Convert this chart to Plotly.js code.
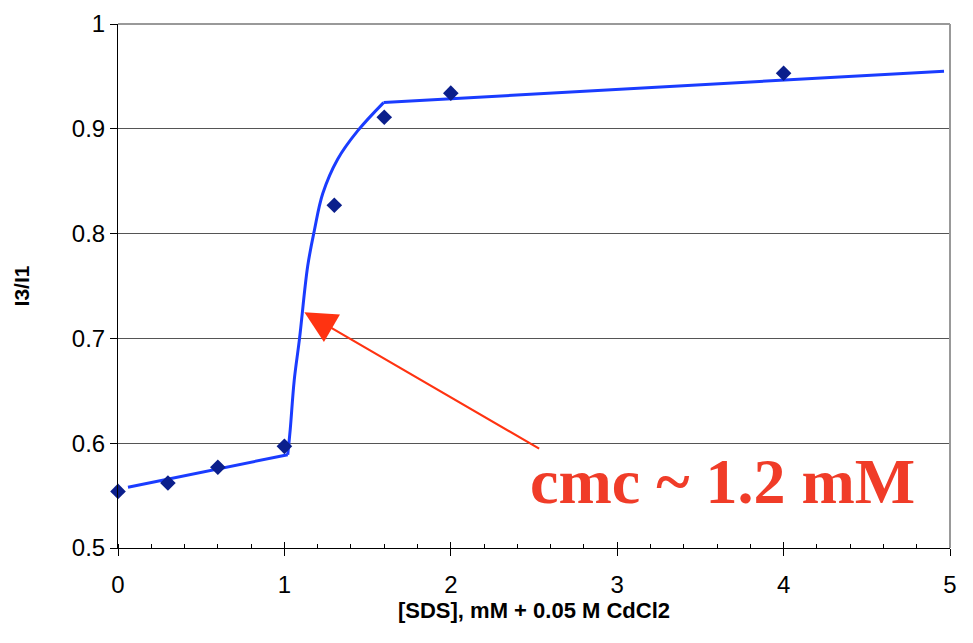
<!DOCTYPE html>
<html>
<head>
<meta charset="utf-8">
<script src="https://cdn.plot.ly/plotly-3.0.1.min.js"></script>
<style>html,body{margin:0;padding:0;background:#fff;}#chart{width:973px;height:643px;}</style>
</head>
<body>
<div id="chart"></div>
<script>
// Measured data points
const sdsConc = [0, 0.3, 0.6, 1.0, 1.3, 1.6, 2.0, 4.0];
const ratioI3I1 = [0.554, 0.562, 0.577, 0.597, 0.827, 0.911, 0.934, 0.953];

// Hand-drawn trend line, in three pieces
const preX = [0.06, 1.02];
const preY = [0.558, 0.589];
const riseX = [1.02, 1.035, 1.059, 1.091, 1.14, 1.18, 1.23, 1.32, 1.44, 1.596];
const riseY = [0.589, 0.613, 0.660, 0.700, 0.769, 0.803, 0.838, 0.871, 0.898, 0.925];
const postX = [1.596, 4.964];
const postY = [0.925, 0.955];

// Annotation
const cmcLabel = 'cmc ~ 1.2 mM';
const arrowTip = [1.12, 0.725];
const arrowTail = [2.54, 0.594];
const labelPos = [3.63, 0.563];

const xTicks = [0, 1, 2, 3, 4, 5];
const yTicks = [0.5, 0.6, 0.7, 0.8, 0.9, 1];

const lineStyle = {color: '#1a3cff', width: 3};
const traces = [
  {x: preX, y: preY, mode: 'lines', type: 'scatter', line: lineStyle, hoverinfo: 'skip', showlegend: false},
  {x: riseX, y: riseY, mode: 'lines', type: 'scatter', line: Object.assign({shape: 'spline', smoothing: 1}, lineStyle), hoverinfo: 'skip', showlegend: false},
  {x: postX, y: postY, mode: 'lines', type: 'scatter', line: lineStyle, hoverinfo: 'skip', showlegend: false},
  {
    x: sdsConc, y: ratioI3I1, mode: 'markers', type: 'scatter',
    marker: {symbol: 'diamond', size: 12, color: '#0b1f8c'},
    showlegend: false, cliponaxis: false
  },
  // invisible helper trace so the overlaid tick axis is drawn
  {x: [xTicks[0]], y: [yTicks[0]], xaxis: 'x2', mode: 'markers', marker: {opacity: 0}, hoverinfo: 'skip', showlegend: false}
];

const sans = 'Liberation Sans, Arial, sans-serif';
const layout = {
  width: 973, height: 643,
  margin: {l: 118, r: 23, t: 24, b: 95},
  paper_bgcolor: '#ffffff', plot_bgcolor: '#ffffff',
  font: {family: sans, color: '#000'},
  xaxis: {
    range: [0, 5], tickvals: xTicks, ticktext: xTicks.map(String),
    showgrid: false, zeroline: false,
    showline: true, linecolor: '#000', linewidth: 1,
    ticks: 'outside', ticklen: 7, tickcolor: '#000', tickwidth: 1,
    minor: {dtick: 0.2, ticks: 'inside', ticklen: 4, tickcolor: '#000', showgrid: false},
    tickfont: {size: 24, family: sans},
    ticklabelstandoff: 8,
    title: {text: '<b>[SDS], mM + 0.05 M CdCl2</b>', standoff: 0,
            font: {size: 22, family: sans}}
  },
  xaxis2: {
    range: [0, 5], overlaying: 'x', anchor: 'y', side: 'bottom',
    tickvals: xTicks, showticklabels: false,
    showgrid: false, zeroline: false, showline: false,
    ticks: 'inside', ticklen: 6, tickcolor: '#000', tickwidth: 1
  },
  yaxis: {
    range: [0.5, 1], tickvals: yTicks, ticktext: yTicks.map(String),
    showgrid: true, gridcolor: '#555', gridwidth: 1, zeroline: false,
    showline: true, linecolor: '#000', linewidth: 1,
    ticks: 'outside', ticklen: 7, tickcolor: '#000',
    tickfont: {size: 24, family: sans},
    title: {text: '<b>I3/I1</b>', standoff: 36,
            font: {size: 21, family: sans}}
  },
  shapes: [
    {type: 'line', xref: 'paper', yref: 'paper', x0: 0, x1: 1, y0: 1, y1: 1,
     line: {color: '#999', width: 2}},
    {type: 'line', xref: 'paper', yref: 'paper', x0: 1, x1: 1, y0: 0, y1: 1,
     line: {color: '#999', width: 2}}
  ],
  annotations: [
    {
      x: arrowTip[0], y: arrowTip[1], xref: 'x', yref: 'y',
      ax: arrowTail[0], ay: arrowTail[1], axref: 'x', ayref: 'y',
      text: '', showarrow: true, arrowhead: 2, arrowsize: 2.9, arrowwidth: 2.2,
      arrowcolor: '#ff3311', standoff: 0, startstandoff: 0
    },
    {
      x: labelPos[0], y: labelPos[1], xref: 'x', yref: 'y',
      text: '<b>' + cmcLabel + '</b>', showarrow: false,
      font: {family: 'Liberation Serif, Times New Roman, serif', size: 64, color: '#f03c28'},
      xanchor: 'center', yanchor: 'middle'
    }
  ]
};

Plotly.newPlot('chart', traces, layout, {displayModeBar: false, staticPlot: true});
</script>
</body>
</html>
